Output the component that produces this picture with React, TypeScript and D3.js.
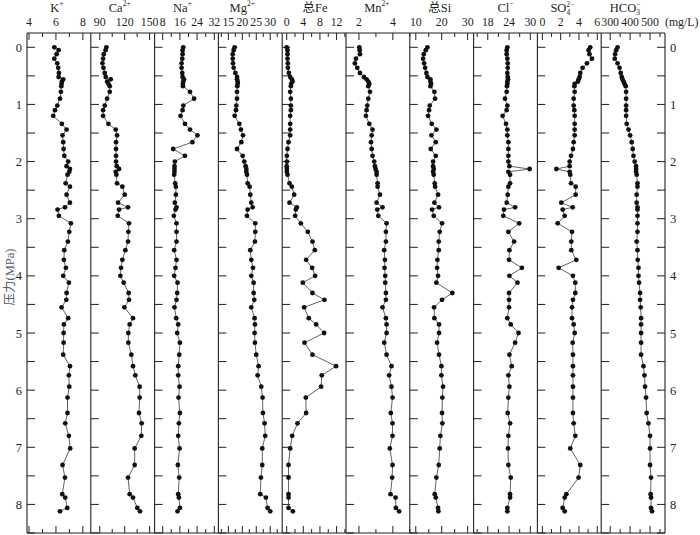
import React from 'react';
import * as d3 from 'd3';

const pressure = [0.0,0.05,0.12,0.2,0.28,0.36,0.45,0.52,0.56,0.6,0.64,0.68,0.78,0.9,1.02,1.1,1.2,1.34,1.44,1.54,1.66,1.78,1.9,
  2.0,2.08,2.13,2.18,2.23,2.38,2.44,2.58,2.72,2.8,2.84,2.95,3.08,3.23,3.4,3.55,3.72,3.86,
  4.0,4.12,4.3,4.42,4.55,4.74,4.85,5.0,5.17,5.38,5.58,5.74,5.94,6.13,6.4,6.58,6.8,7.02,7.31,7.53,7.82,7.88,8.06,8.12];

const K = [5.88,6.2,6.05,5.88,6.1,6.17,6.22,6.2,6.54,6.44,6.42,6.4,6.37,6.3,6.1,5.93,5.8,6.44,6.79,6.49,6.54,6.57,6.62,
  6.91,6.79,7.04,6.99,6.86,6.72,7.04,6.79,7.04,6.67,6.12,6.22,7.11,6.99,6.89,6.62,6.59,6.74,
  6.54,6.96,6.79,6.77,6.42,6.91,6.59,6.57,6.57,6.54,7.04,6.96,6.99,6.86,6.86,6.69,6.96,7.06,6.49,6.67,6.47,6.69,6.84,6.3];
const Ca = [98,97,94.8,94,93.2,94.4,96,97.2,103.2,98.8,100.4,102,102,98.8,96,94,94,100.4,109.2,110.8,109.6,109.6,109.6,
  109.6,110.4,113.2,109.2,110,110.8,117.2,120,112,124,113.2,111.6,125.2,124.4,124,120.8,117.2,115.6,
  114.8,118.8,124.8,125.2,119.6,130,126,124.4,124.4,128,130,132.8,138,138,137.2,140.4,140,132,132,124,126,130,135.2,138.4];
const Na = [17.57,17.25,17.25,17.1,16.78,16.78,17.1,17.25,17.88,17.57,17.41,17.41,20.7,22.59,17.57,17.25,16.31,18.35,20.7,24.16,21.8,12.86,18.35,
  13.65,13.49,13.49,13.49,13.33,13.8,14.12,14.12,13.65,14.43,13.96,13.18,14.43,14.43,14.43,13.33,14.43,13.96,
  13.33,14.9,14.75,14.43,13.49,14.27,15.22,14.75,16.0,15.69,15.22,15.22,15.84,15.37,16.0,15.53,15.22,15.84,15.06,15.69,15.22,15.53,16.0,14.9];
const Mg = [17.26,16.9,16.55,16.55,16.67,16.9,17.5,18.1,18.1,18.33,18.33,18.2,18.1,18.1,17.86,17.74,17.26,18.93,19.52,20.24,19.64,18.1,20.12,
  20.71,21.19,21.43,21.43,21.67,21.9,22.62,22.86,23.21,23.69,21.9,21.67,24.64,24.64,24.52,22.86,23.21,23.81,
  23.21,24.05,24.05,24.29,23.21,24.4,24.52,24.4,24.52,25,25.83,25.48,26.79,27.26,27.38,27.98,28.21,27.14,27.14,26.67,26.43,28.45,29.05,30];
const Fe = [0,0.2,0.2,0.2,0.28,0.28,0.52,0.84,1.24,1.4,1.08,1.0,0.84,1.0,1.0,1.0,0.84,0.84,0.84,0.84,0.44,0.2,0.04,
  0.04,0,0.04,0.04,0.2,0.68,1.24,1.8,0.68,2.44,2.2,2.04,3.4,5.08,6.2,6.76,4.68,6.12,
  6.84,3.88,6.2,9.08,4.2,5.32,7.08,9.0,4.28,6.2,11.88,8.44,8.28,4.6,4.68,2.6,1.32,0.84,0.44,0.44,0.44,0.44,0.44,1.48];
const Mn = [2.02,2.04,2.06,1.82,1.76,1.9,2.06,2.29,2.45,2.55,2.61,2.55,2.65,2.55,2.49,2.45,2.41,2.61,2.8,2.75,2.71,2.75,2.8,
  2.9,2.94,2.98,3.04,3.04,3.1,3.1,3.24,3.04,3.39,3.08,3.14,3.63,3.59,3.59,3.49,3.53,3.51,
  3.55,3.55,3.59,3.59,3.39,3.59,3.63,3.63,3.49,3.63,3.92,3.78,3.92,3.98,3.88,3.98,3.98,3.82,3.98,3.96,3.86,4.16,4.18,4.37];
const Si = [14.49,13.85,13.08,12.82,13.21,13.59,14.1,14.49,15.64,15.64,15.9,15.64,17.18,17.44,15.38,15.13,14.74,16.15,17.95,16.03,17.69,15.77,17.69,
  16.67,16.67,16.92,16.67,16.92,17.31,17.44,18.59,17.18,18.97,16.28,16.92,20.13,19.23,18.85,18.85,18.33,18.21,
  18.59,17.95,24.1,20.13,17.05,17.18,18.97,18.97,18.21,18.97,19.87,19.87,20.51,20.26,20.13,20.26,19.49,19.23,18.85,17.95,17.31,17.69,18.59,18.72];
const Cl = [23.52,23.33,23.33,23.52,23.62,23.62,23.52,23.62,23.71,23.52,23.52,23.4,23.33,22.86,23.52,23.33,22.19,23.14,23.52,23.52,23.81,23.81,23.81,
  23.81,24.1,29.81,23.81,24.29,24.29,23.81,23.62,23.33,25.71,22.57,22.38,26.86,23.81,25.43,24.1,24.0,27.62,
  24.1,26.38,24.0,24.0,24.0,23.52,24.48,26.67,25.71,24.1,24.76,23.81,24.1,23.81,23.62,24.29,23.81,23.71,23.81,24.48,24.29,24.29,23.52,23.52];
const SO4 = [5.23,5.05,5.15,5.42,4.87,4.4,4.14,4.07,3.96,3.89,3.53,3.5,3.53,3.42,3.42,3.49,3.53,3.53,3.53,3.53,3.42,3.34,3.13,
  2.98,2.98,1.53,2.98,3.05,3.13,3.64,3.64,2.07,3.31,2.22,2.44,1.67,3.24,3.16,3.16,3.71,1.78,
  3.34,3.6,3.6,3.34,3.24,3.24,3.42,3.53,3.31,3.34,3.34,3.34,3.34,3.34,3.34,3.42,3.6,3.05,4.14,3.96,2.62,2.44,2.22,2.44];
const HCO3 = [337,330,325,323,337,347,353,358,362,367,372,378,380,380,380,380,380,383,392,400,408,413,417,
  423,430,430,430,433,437,437,433,433,437,437,437,437,437,433,437,438,442,
  442,445,450,450,453,455,455,455,455,455,467,472,475,480,483,492,500,500,500,505,503,505,505,510];

const kTicks = [4, 6, 8];
const caTicks = [90, 120, 150];
const naTicks = [8, 16, 24, 32];
const mgTicks = [15, 20, 25, 30];
const feTicks = [0, 4, 8, 12];
const mnTicks = [2, 4];
const siTicks = [10, 20, 30];
const clTicks = [18, 24, 30];
const so4Ticks = [0, 2, 4, 6];
const hco3Ticks = [300, 400, 500];
const pressureTicks = [0, 1, 2, 3, 4, 5, 6, 7, 8];

type Seg = { t: string; k?: 'sub' | 'sup' | 'supOver' };

const panels: { title: Seg[]; values: number[]; domain: [number, number]; ticks: number[]; minorStep: number; titleDx: number }[] = [
  { title: [{ t: 'K' }, { t: '+', k: 'sup' }], values: K, domain: [3.85, 8.59], ticks: kTicks, minorStep: 1, titleDx: -2 },
  { title: [{ t: 'Ca' }, { t: '2+', k: 'sup' }], values: Ca, domain: [79.2, 156], ticks: caTicks, minorStep: 15, titleDx: -3 },
  { title: [{ t: 'Na' }, { t: '+', k: 'sup' }], values: Na, domain: [4.24, 33.9], ticks: naTicks, minorStep: 4, titleDx: -4 },
  { title: [{ t: 'Mg' }, { t: '2+', k: 'sup' }], values: Mg, domain: [11.43, 34.29], ticks: mgTicks, minorStep: 2.5, titleDx: -8 },
  { title: [{ t: '总Fe' }], values: Fe, domain: [-1.08, 14.27], ticks: feTicks, minorStep: 2, titleDx: 1 },
  { title: [{ t: 'Mn' }, { t: '2+', k: 'sup' }], values: Mn, domain: [1.235, 5.0], ticks: mnTicks, minorStep: 1, titleDx: -1 },
  { title: [{ t: '总Si' }], values: Si, domain: [7.69, 32.3], ticks: siTicks, minorStep: 5, titleDx: -2 },
  { title: [{ t: 'Cl' }, { t: '−', k: 'sup' }], values: Cl, domain: [14, 32], ticks: clTicks, minorStep: 3, titleDx: 0 },
  { title: [{ t: 'SO' }, { t: '4', k: 'sub' }, { t: '2−', k: 'supOver' }], values: SO4, domain: [-0.545, 6.43], ticks: so4Ticks, minorStep: 1, titleDx: -7 },
  { title: [{ t: 'HCO' }, { t: '3', k: 'sub' }, { t: '−', k: 'supOver' }], values: HCO3, domain: [255, 575], ticks: hco3Ticks, minorStep: 50, titleDx: -8 },
];

const W = 700, H = 535;
const LEFT = 27, RIGHT = 665, TOP = 33, BOTTOM = 533;
const FONT = '"Liberation Serif", "Times New Roman", "Noto Sans CJK SC", serif';
const INK = '#231f20';

function Title({ segs, x, y }: { segs: Seg[]; x: number; y: number }) {
  const children: React.ReactNode[] = [];
  segs.forEach((s, i) => {
    if (!s.k) {
      children.push(<tspan key={i}>{s.t}</tspan>);
    } else if (s.k === 'sup') {
      children.push(<tspan key={i} fontSize={7.5} dy={-6}>{s.t}</tspan>);
    } else if (s.k === 'sub') {
      children.push(<tspan key={i} fontSize={7.5} dy={2.5}>{s.t}</tspan>);
    } else if (s.k === 'supOver') {
      children.push(<tspan key={i} fontSize={7.5} dx={-3.9} dy={-8}>{s.t}</tspan>);
    }
  });
  return (
    <text x={x} y={y} textAnchor="middle" fontSize={12.5} fill={INK} fontFamily={FONT}>
      {children}
    </text>
  );
}

export default function App() {
  const y = d3.scaleLinear().domain([-0.25, 8.5]).range([TOP, BOTTOM]);
  const pw = (RIGHT - LEFT) / panels.length;
  const yMinor = d3.range(0, 8.51, 0.5);

  return (
    <div style={{ position: 'absolute', left: 0, top: 0 }}>
      <svg width={W} height={H} viewBox={`0 0 ${W} ${H}`} style={{ display: 'block', background: '#fff' }}>
        {panels.map((p, i) => {
          const x0 = LEFT + i * pw;
          const x = d3.scaleLinear().domain(p.domain).range([x0, x0 + pw]);
          const line = d3.line<number>()
            .x((d) => x(d))
            .y((_, j) => y(pressure[j]));
          const minors: number[] = [];
          const first = Math.ceil(p.domain[0] / p.minorStep) * p.minorStep;
          for (let v = first; v <= p.domain[1]; v += p.minorStep) {
            const isMajor = p.ticks.some((t) => Math.abs(t - v) < 1e-6);
            if (!isMajor) minors.push(v);
          }
          return (
            <g key={i}>
              {yMinor.map((v) => (
                <line key={'yt' + v} x1={x0} x2={x0 + 8} y1={y(v)} y2={y(v)} stroke={INK} strokeWidth={1} />
              ))}
              {p.ticks.map((t) => (
                <g key={'mt' + t}>
                  <line x1={x(t)} x2={x(t)} y1={TOP} y2={TOP + 7} stroke={INK} strokeWidth={1} />
                  <line x1={x(t)} x2={x(t)} y1={BOTTOM} y2={BOTTOM - 7} stroke={INK} strokeWidth={1} />
                  <text x={x(t)} y={26} textAnchor="middle" fontSize={11.8} fill={INK} fontFamily={FONT}>{t}</text>
                </g>
              ))}
              {minors.map((t) => (
                <g key={'mn' + t}>
                  <line x1={x(t)} x2={x(t)} y1={TOP} y2={TOP + 4} stroke={INK} strokeWidth={1} />
                  <line x1={x(t)} x2={x(t)} y1={BOTTOM} y2={BOTTOM - 4} stroke={INK} strokeWidth={1} />
                </g>
              ))}
              <Title segs={p.title} x={x0 + pw / 2 + p.titleDx} y={12} />
              <path d={line(p.values) || ''} fill="none" stroke="#3a3a3a" strokeWidth={0.8} />
              {p.values.map((v, j) => (
                <circle key={j} cx={x(v)} cy={y(pressure[j])} r={2.4} fill="#111" />
              ))}
              <line x1={x0} x2={x0} y1={TOP} y2={BOTTOM} stroke={INK} strokeWidth={1.1} />
            </g>
          );
        })}
        <line x1={RIGHT} x2={RIGHT} y1={TOP} y2={BOTTOM} stroke={INK} strokeWidth={1.1} />
        {yMinor.map((v) => (
          <line key={'ryt' + v} x1={RIGHT - 8} x2={RIGHT} y1={y(v)} y2={y(v)} stroke={INK} strokeWidth={1} />
        ))}
        <line x1={LEFT} x2={RIGHT} y1={TOP} y2={TOP} stroke={INK} strokeWidth={1.1} />
        <line x1={LEFT} x2={RIGHT} y1={BOTTOM} y2={BOTTOM} stroke={INK} strokeWidth={1.1} />
        {pressureTicks.map((v) => (
          <g key={'pl' + v}>
            <text x={22} y={y(v) + 4.5} textAnchor="end" fontSize={12.5} fill={INK} fontFamily={FONT}>{v}</text>
            <text x={670} y={y(v) + 4.5} textAnchor="start" fontSize={12.5} fill={INK} fontFamily={FONT}>{v}</text>
          </g>
        ))}
        <text x={665} y={26} textAnchor="start" fontSize={11.8} fill={INK} fontFamily={FONT}>(mg/L)</text>
        <text
          transform={`translate(14, ${277}) rotate(-90)`}
          textAnchor="middle"
          fontSize={12.5}
          fill="#555a66"
          fontFamily={FONT}
        >
          压力(MPa)
        </text>
      </svg>
    </div>
  );
}
